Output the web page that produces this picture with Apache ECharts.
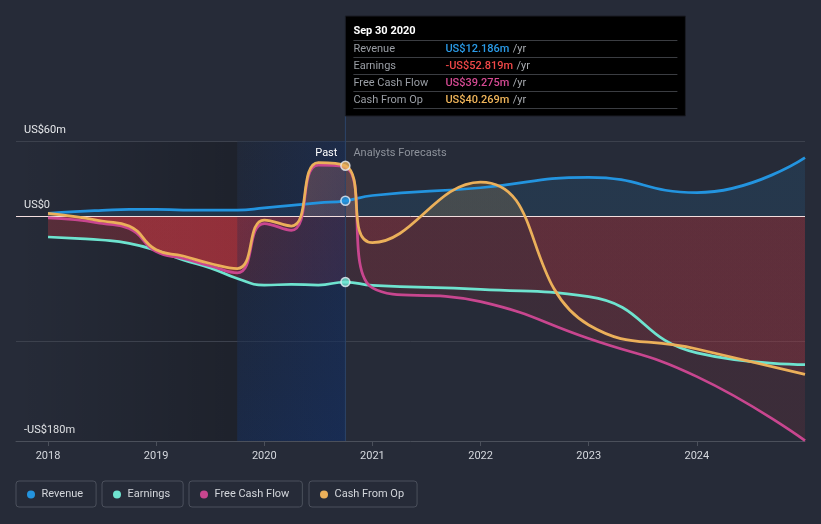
<!DOCTYPE html>
<html>
<head>
<meta charset="utf-8">
<script src="https://cdn.jsdelivr.net/npm/echarts@6/dist/echarts.min.js"></script>
<style>
html,body{margin:0;padding:0;background:#262b38;}
#c{width:821px;height:524px;}
</style>
</head>
<body>
<div id="c"></div>
<script>
// ---------- data ----------
const periods = [2018.0, 2018.25, 2018.5, 2018.75, 2019.0, 2019.25, 2019.5, 2019.75, 2020.0, 2020.25, 2020.5, 2020.75, 2021.0, 2022.0, 2023.0, 2024.0, 2025.0];
const revenue = [2.1, 3.5, 4.5, 5.3, 5.3, 4.8, 4.8, 4.8, 6.5, 8.5, 10.5, 12.186, 16.4, 22.6, 31.0, 18.7, 46.7];
const earnings = [-16.8, -17.9, -19.2, -21.9, -27.5, -35.2, -41.5, -50.0, -55.3, -54.7, -55.2, -52.819, -55.5, -58.7, -64.5, -109.5, -118.9];
const freeCashFlow = [-1.5, -3.0, -6.0, -10.0, -28.5, -34.0, -40.0, -45.5, -6.0, -11.5, 40.8, 39.275, -57.5, -68.5, -98.0, -128.5, -179.7];
const cashFromOp = [2.1, -0.5, -4.0, -8.0, -27.0, -32.0, -38.0, -42.0, -3.2, -8.0, 42.7, 40.269, -21.3, 27.2, -87.2, -106.4, -126.7];
const yearTicks = [2018, 2019, 2020, 2021, 2022, 2023, 2024];
const yLabelValues = [-180, 0, 60];
const gridLineValues = [60, -100];
const seriesNames = ['Revenue', 'Earnings', 'Free Cash Flow', 'Cash From Op'];
const nowIndex = 11;
const nowLabel = 'Sep 30 2020';
const bandStart = 2019.75;
const xMin = 2017.704, xMax = 2025.0;
const yMin = -180, yMax = 60;

// ---------- style ----------
const W = 821, H = 524;
const gridLeft = 16, gridRight = 16, gridTop = 141, gridBottom = 83;
const plotH = H - gridTop - gridBottom;
const zeroPx = gridTop + plotH * (yMax / (yMax - yMin));
const colors = ['#2394df', '#6ee3cf', '#c8468f', '#ebb05a'];
const rgbs = ['35,148,223', '110,227,207', '200,70,143', '235,176,90'];
const negRgb = '205,55,65';
const FONT = 'Roboto, "Noto Sans", sans-serif';
const SMOOTH = 0.5;
const allData = [revenue, earnings, freeCashFlow, cashFromOp];

const nowFrac = (periods[nowIndex] - xMin) / (xMax - xMin);
function fillGrad(rgb, aPast, aFut) {
  return {
    type: 'linear', x: gridLeft, y: 0, x2: W - gridRight, y2: 0, global: true,
    colorStops: [
      { offset: 0, color: `rgba(${rgb},${aPast})` },
      { offset: nowFrac, color: `rgba(${rgb},${aPast})` },
      { offset: Math.min(1, nowFrac + 0.0005), color: `rgba(${rgb},${aFut})` },
      { offset: 1, color: `rgba(${rgb},${aFut})` }
    ]
  };
}
const pairs = arr => periods.map((p, i) => [p, arr[i]]);

const series = [];
// background helpers
series.push({
  type: 'line', name: '_bg', xAxisIndex: 0, yAxisIndex: 0, data: [], silent: true, z: 1,
  markArea: {
    silent: true, z: 1,
    data: [[
      { xAxis: xMin, itemStyle: { color: { type: 'linear', x: 0, y: 0, x2: 1, y2: 0, colorStops: [{ offset: 0, color: 'rgba(0,0,0,0)' }, { offset: 1, color: 'rgba(0,0,0,0.22)' }] } } },
      { xAxis: bandStart }
    ]]
  },
  markLine: {
    silent: true, z: 1, symbol: 'none', label: { show: false },
    lineStyle: { color: '#3c414d', width: 1, type: 'solid' },
    data: gridLineValues.map(v => ({ yAxis: v }))
  }
});
// fills (positive part in series colour, negative part in red; stronger in the past)
allData.forEach((arr, i) => {
  const posA = i === 0 ? [0.16, 0.12] : [0.26, 0.16];
  series.push({
    type: 'line', name: '_pos' + i, xAxisIndex: 1, yAxisIndex: 1, data: pairs(arr),
    smooth: SMOOTH, showSymbol: false, silent: true, z: 2,
    lineStyle: { width: 0, opacity: 0 },
    areaStyle: { origin: 'start', opacity: 1, color: fillGrad(rgbs[i], posA[0], posA[1]) },
    emphasis: { disabled: true }
  });
  series.push({
    type: 'line', name: '_neg' + i, xAxisIndex: 2, yAxisIndex: 2, data: pairs(arr),
    smooth: SMOOTH, showSymbol: false, silent: true, z: 2,
    lineStyle: { width: 0, opacity: 0 },
    areaStyle: { origin: 'end', opacity: 1, color: fillGrad(negRgb, 0.3, 0.13) },
    emphasis: { disabled: true }
  });
});
// blue "last year" band + zero line
series.push({
  type: 'line', name: '_band', xAxisIndex: 0, yAxisIndex: 0, data: [], silent: true, z: 3,
  markArea: {
    silent: true, z: 3,
    data: [
      [{ xAxis: bandStart, itemStyle: { color: { type: 'linear', x: 0, y: 0, x2: 0, y2: 1, colorStops: [{ offset: 0, color: 'rgba(12,30,60,0.2)' }, { offset: 1, color: 'rgba(12,40,90,0.45)' }] } } }, { xAxis: periods[nowIndex] }],
      [{ xAxis: bandStart, itemStyle: { color: { type: 'linear', x: 0, y: 0, x2: 1, y2: 0, colorStops: [{ offset: 0, color: 'rgba(20,50,110,0)' }, { offset: 1, color: 'rgba(20,50,110,0.3)' }] } } }, { xAxis: periods[nowIndex] }]
    ]
  },
  markLine: {
    silent: true, z: 4, symbol: 'none', label: { show: false },
    lineStyle: { color: '#f3dede', width: 1, type: 'solid' },
    data: [{ yAxis: 0 }]
  }
});
// lines
allData.forEach((arr, i) => {
  series.push({
    type: 'line', name: seriesNames[i], xAxisIndex: 0, yAxisIndex: 0, data: pairs(arr),
    smooth: SMOOTH, showSymbol: false, z: 5,
    color: colors[i], itemStyle: { color: colors[i] },
    lineStyle: { width: 2.75, color: colors[i] },
    emphasis: { disabled: true }
  });
});
// current-point dots
series.push({
  type: 'scatter', name: '_dots', xAxisIndex: 0, yAxisIndex: 0, z: 6, silent: true,
  symbolSize: 9,
  data: [0, 1, 3].map(i => ({ value: [periods[nowIndex], allData[i][nowIndex]], itemStyle: { color: colors[i], borderColor: '#e8eef5', borderWidth: 1.5 } }))
});

const legendLefts = [16, 102, 189, 309];
const option = {
  animation: false,
  backgroundColor: '#262b38',
  textStyle: { fontFamily: FONT },
  tooltip: { show: false },
  grid: [
    { left: gridLeft, right: gridRight, top: gridTop, bottom: gridBottom, containLabel: false, outerBoundsMode: 'none' },
    { left: gridLeft, right: gridRight, top: gridTop, height: zeroPx - gridTop, containLabel: false, outerBoundsMode: 'none' },
    { left: gridLeft, right: gridRight, top: zeroPx, bottom: gridBottom, containLabel: false, outerBoundsMode: 'none' }
  ],
  xAxis: [
    {
      gridIndex: 0, type: 'value', min: xMin, max: xMax,
      axisLine: { show: true, onZero: false, lineStyle: { color: '#4b505b', width: 1 } },
      axisTick: { show: true, customValues: yearTicks, length: 5, lineStyle: { color: '#4b505b' } },
      axisLabel: { customValues: yearTicks, formatter: v => String(Math.round(v)), color: '#d5d8de', fontSize: 11, margin: 10, fontFamily: FONT },
      splitLine: { show: false }
    },
    { gridIndex: 1, type: 'value', min: xMin, max: xMax, show: false },
    { gridIndex: 2, type: 'value', min: xMin, max: xMax, show: false }
  ],
  yAxis: [
    {
      gridIndex: 0, type: 'value', min: yMin, max: yMax,
      axisLine: { show: false }, axisTick: { show: false }, splitLine: { show: false },
      axisLabel: {
        customValues: yLabelValues, inside: true, margin: 8, color: '#e6e8eb', fontSize: 11, fontFamily: FONT,
        verticalAlign: 'bottom', padding: [0, 0, 5, 0],
        formatter: v => (v < 0 ? '-' : '') + 'US$' + Math.abs(v) + (v === 0 ? '' : 'm')
      }
    },
    { gridIndex: 1, type: 'value', min: 0, max: yMax, show: false },
    { gridIndex: 2, type: 'value', min: yMin, max: 0, show: false }
  ],
  legend: seriesNames.map((n, i) => ({
    data: [n], left: legendLefts[i], top: 481, icon: 'circle', itemWidth: 11, itemHeight: 8,
    selectedMode: false, padding: [8, 13, 7, 11],
    borderColor: '#4b505c', borderWidth: 1, borderRadius: 3,
    textStyle: { color: '#d3d6db', fontSize: 11, fontFamily: FONT }
  })),
  series: series
};

const chart = echarts.init(document.getElementById('c'), null, { renderer: 'canvas', width: W, height: H });
chart.setOption(option);

// ---------- annotations derived from the axes ----------
const nx = chart.convertToPixel({ xAxisIndex: 0 }, periods[nowIndex]);
const yTopPx = chart.convertToPixel({ yAxisIndex: 0 }, yMax);
const yBotPx = chart.convertToPixel({ yAxisIndex: 0 }, yMin);
const tipTop = 16, tipH = 100, tipW = 340;
const fmt = v => (v < 0 ? '-' : '') + 'US$' + Math.abs(v).toFixed(3) + 'm';
const valueColors = ['#2a9be8', '#f04848', '#d54a93', '#f0b55a'];
const graphics = [];
graphics.push({ type: 'line', z: 4, silent: true, shape: { x1: nx, y1: tipTop + tipH, x2: nx, y2: yBotPx }, style: { stroke: '#2c4568', lineWidth: 1 } });
graphics.push({ type: 'text', z: 10, silent: true, x: nx - 8, y: yTopPx + 12, style: { text: 'Past', fill: '#ffffff', font: '11px ' + FONT, align: 'right', verticalAlign: 'middle', textAlign: 'right', textVerticalAlign: 'middle' } });
graphics.push({ type: 'text', z: 10, silent: true, x: nx + 8, y: yTopPx + 12, style: { text: 'Analysts Forecasts', fill: '#8d929b', font: '11px ' + FONT, align: 'left', verticalAlign: 'middle', textAlign: 'left', textVerticalAlign: 'middle' } });
graphics.push({ type: 'rect', z: 20, silent: true, shape: { x: nx, y: tipTop, width: tipW, height: tipH }, style: { fill: '#000000', stroke: '#1a1d24', lineWidth: 1 } });
graphics.push({ type: 'text', z: 21, silent: true, x: nx + 8, y: 31.5, style: { text: nowLabel, fill: '#ffffff', font: 'bold 11px ' + FONT, align: 'left', verticalAlign: 'middle', textAlign: 'left', textVerticalAlign: 'middle' } });
for (let r = 0; r < 5; r++) {
  const ly = 40.5 + 17 * r;
  graphics.push({ type: 'line', z: 21, silent: true, shape: { x1: nx + 8, y1: ly, x2: nx + tipW - 8, y2: ly }, style: { stroke: '#3b3d42', lineWidth: 1 } });
}
seriesNames.forEach((n, r) => {
  const cy = 49 + 17 * r;
  graphics.push({ type: 'text', z: 21, silent: true, x: nx + 8, y: cy, style: { text: n, fill: '#9a9ea5', font: '11px ' + FONT, align: 'left', verticalAlign: 'middle', textAlign: 'left', textVerticalAlign: 'middle' } });
  graphics.push({ type: 'text', z: 21, silent: true, x: nx + 100, y: cy, style: {
    text: '{v|' + fmt(allData[r][nowIndex]) + '} {u|/yr}', align: 'left', verticalAlign: 'middle', textAlign: 'left', textVerticalAlign: 'middle',
    rich: { v: { fill: valueColors[r], color: valueColors[r], fontSize: 11, fontFamily: FONT, fontWeight: 500 }, u: { fill: '#a8abb0', color: '#a8abb0', fontSize: 11, fontFamily: FONT } }
  } });
});
chart.setOption({ graphic: { elements: graphics } });
</script>
</body>
</html>
